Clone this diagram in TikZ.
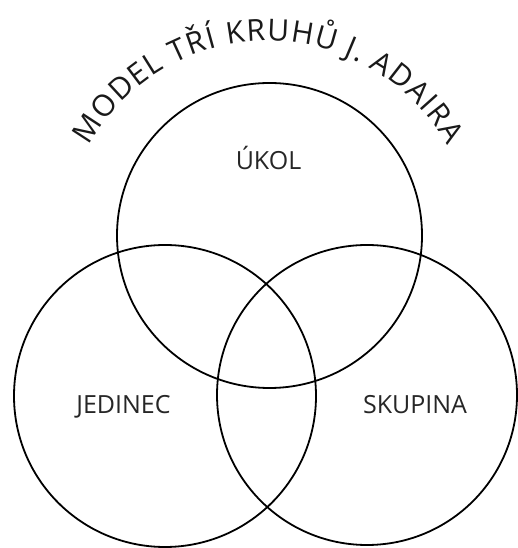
\documentclass[tikz,border=0pt]{standalone}
\usepackage{fontspec}
\setmainfont{Open Sans}
\usetikzlibrary{decorations.text}
\begin{document}
\begin{tikzpicture}[x=1pt,y=1pt,
  ring/.style={draw=black, line width=1.8pt, circle, minimum size=#1, inner sep=0pt},
  lbl/.style={anchor=base, text=black!85, font=\fontsize{25}{30}\selectfont}]
\useasboundingbox (0,0) rectangle (517,548);
\node[ring=305pt] (ukol) at (269.5,312.5) {};
\node[ring=302pt] (jedinec) at (165,152) {};
\node[ring=300pt] (skupina) at (367,153) {};
\node[lbl] (tukol) at (268.5,378) {ÚKOL};
\node[lbl] (tjed) at (123.5,134) {JEDINEC};
\node[lbl] (tsku) at (415,134) {SKUPINA};
\coordinate (tc) at (268,301);
\path[decorate, decoration={text along path, text align={fit to path},
  text={|\fontsize{30}{36}\selectfont\color{black!90}|MODEL TŘÍ KRUHŮ J. ADAIRA}}]
  (tc) ++(150.5:206) arc[start angle=150.5, end angle=29.5, radius=206];
\end{tikzpicture}
\end{document}
